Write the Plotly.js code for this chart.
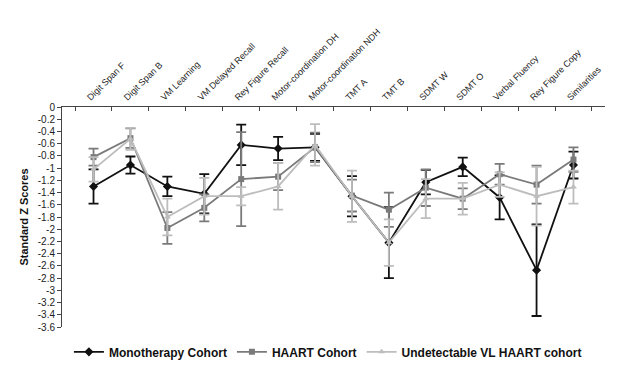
<!DOCTYPE html>
<html>
<head>
<meta charset="utf-8">
<script src="https://cdn.plot.ly/plotly-3.0.1.min.js"></script>
<style>html,body{margin:0;padding:0;background:#fff;}#chart{width:627px;height:370px;}</style>
</head>
<body>
<div id="chart"></div>
<script>
const categories = ["Digit Span F","Digit Span B","VM Learning","VM Delayed Recall","Rey Figure Recall","Motor-coordination DH","Motor-coordination NDH","TMT A","TMT B","SDMT W","SDMT O","Verbal Fluency","Rey Figure Copy","Similarities"];
const monoValues  = [-1.30,-0.95,-1.30,-1.42,-0.62,-0.68,-0.66,-1.46,-2.22,-1.23,-0.98,-1.48,-2.67,-0.95];
const monoErrors  = [0.28,0.14,0.16,0.32,0.33,0.19,0.22,0.33,0.58,0.20,0.15,0.36,0.75,0.22];
const haartValues = [-0.82,-0.51,-1.98,-1.65,-1.18,-1.14,-0.66,-1.45,-1.68,-1.32,-1.50,-1.10,-1.27,-0.86];
const haartErrors = [0.14,0.16,0.26,0.22,0.77,0.22,0.24,0.26,0.28,0.30,0.17,0.17,0.31,0.20];
const vlValues    = [-1.02,-0.52,-1.80,-1.46,-1.46,-1.30,-0.62,-1.46,-2.22,-1.50,-1.50,-1.27,-1.46,-1.31];
const vlErrors    = [0.20,0.18,0.30,0.30,0.15,0.38,0.34,0.42,0.38,0.32,0.26,0.20,0.48,0.27];
const yTickVals = [0,-0.2,-0.4,-0.6,-0.8,-1,-1.2,-1.4,-1.6,-1.8,-2,-2.2,-2.4,-2.6,-2.8,-3,-3.2,-3.4,-3.6];
const yTickText = ["0","-0.2","-0.4","-0.6","-0.8","-1","-1.2","-1.4","-1.6","-1.8","-2","-2.2","-2.4","-2.6","-2.8","-3","-3.2","-3.4","-3.6"];

function series(name, vals, errs, color, symbol, size){
  return {
    type:'scatter', mode:'lines+markers', name:name,
    x:categories, y:vals,
    line:{color:color, width:1.8},
    marker:{color:color, symbol:symbol, size:size},
    error_y:{type:'data', array:errs, visible:true, color:color, thickness:1.8, width:5}
  };
}
const data = [
  series('Monotherapy Cohort', monoValues, monoErrors, '#111111', 'diamond', 7),
  series('HAART Cohort', haartValues, haartErrors, '#7a7a7a', 'square', 6),
  series('Undetectable VL HAART cohort', vlValues, vlErrors, '#bdbdbd', 'triangle-up', 6)
];
const layout = {
  width:627, height:370,
  margin:{l:62, r:22, t:107, b:43},
  paper_bgcolor:'#fff', plot_bgcolor:'#fff',
  font:{family:'Liberation Sans, Arial, sans-serif', color:'#222'},
  showlegend:true,
  legend:{orientation:'h', xref:'container', yref:'container', x:0.523, xanchor:'center', y:0.049, yanchor:'middle',
          font:{size:12, family:'Liberation Sans, Arial, sans-serif', weight:'bold', color:'#111'},
          itemwidth:30, tracegroupgap:0},
  xaxis:{
    side:'top', type:'category', tickangle:-45,
    tickfont:{size:9, color:'#222'},
    ticklabelshift:-6,
    showline:true, linecolor:'#444', linewidth:1,
    ticks:'inside', tickson:'boundaries', ticklen:4, tickcolor:'#444',
    showgrid:false, zeroline:false, automargin:false
  },
  yaxis:{
    range:[-3.6,0], tickvals:yTickVals, ticktext:yTickText,
    tickfont:{size:10, color:'#222'},
    showline:true, linecolor:'#444', linewidth:1,
    ticks:'outside', ticklen:4, tickcolor:'#444',
    showgrid:false, zeroline:false,
    title:{text:'Standard Z Scores', font:{size:11, weight:'bold', color:'#111'}, standoff:6},
    automargin:false
  }
};
Plotly.newPlot('chart', data, layout, {displayModeBar:false, staticPlot:true});
</script>
</body>
</html>
